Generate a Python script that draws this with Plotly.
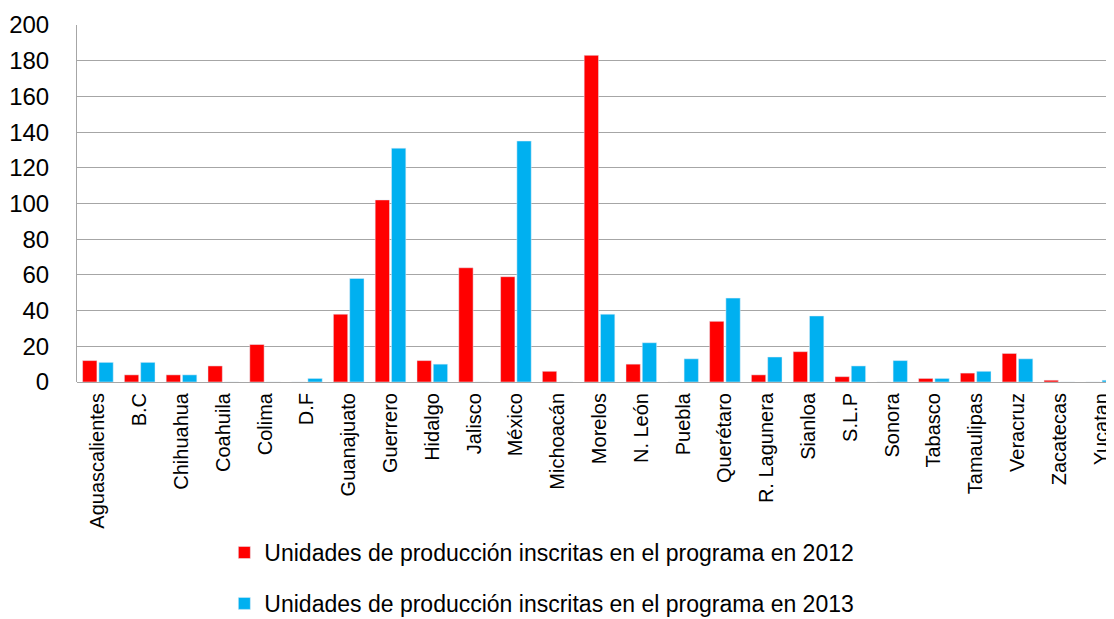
import plotly.graph_objects as go

estados = ["Aguascalientes", "B.C", "Chihuahua", "Coahuila", "Colima", "D.F", "Guanajuato",
           "Guerrero", "Hidalgo", "Jalisco", "México", "Michoacán", "Morelos", "N. León",
           "Puebla", "Querétaro", "R. Lagunera", "Sianloa", "S.L.P", "Sonora", "Tabasco",
           "Tamaulipas", "Veracruz", "Zacatecas", "Yucatan"]
unidades_2012 = [12, 4, 4, 9, 21, 0, 38, 102, 12, 64, 59, 6, 183, 10, 0, 34, 4, 17, 3, 0, 2, 5, 16, 1, 0]
unidades_2013 = [11, 11, 4, 0, 0, 2, 58, 131, 10, 0, 135, 0, 38, 22, 13, 47, 14, 37, 9, 12, 2, 6, 13, 0, 1]
y_ticks = [0, 20, 40, 60, 80, 100, 120, 140, 160, 180, 200]

_RED, _BLUE = "#ff0000", "#00b0f0"
_FONT = "Liberation Sans, Arial, sans-serif"

fig = go.Figure()
fig.add_bar(x=estados, y=unidades_2012, name="Unidades de producción inscritas en el programa en 2012",
            marker_color=_RED, legendgroup="a")
fig.add_bar(x=estados, y=unidades_2013, name="Unidades de producción inscritas en el programa en 2013",
            marker_color=_BLUE, legendgroup="b")

# the page body adds an 8px offset, so margins are trimmed by that amount
fig.update_layout(
    width=1114, height=619,
    paper_bgcolor="white", plot_bgcolor="white",
    font={"family": _FONT, "color": "#000000", "size": 18},
    margin={"l": 69, "r": 0, "t": 17, "b": 245, "autoexpand": False},
    barmode="group", bargap=0.22, bargroupgap=0.12,
    showlegend=True,
    legend={"orientation": "v", "x": 0.141, "xanchor": "left",
            "yref": "container", "y": 0.155, "yanchor": "top",
            "font": {"size": 23}, "traceorder": "grouped", "tracegroupgap": 18},
)
fig.update_xaxes(tickangle=-90, showline=False, ticks="", tickfont={"size": 20},
                 ticklabelstandoff=6, automargin=False)
fig.update_yaxes(range=[0, 200], tickvals=y_ticks, showgrid=True, gridcolor="#a6a6a6",
                 gridwidth=1, showline=True, linecolor="#a6a6a6", linewidth=1,
                 zeroline=True, zerolinecolor="#a6a6a6", zerolinewidth=1,
                 tickfont={"size": 24}, ticklabelstandoff=22, automargin=False)

fig.write_html("out.html")
